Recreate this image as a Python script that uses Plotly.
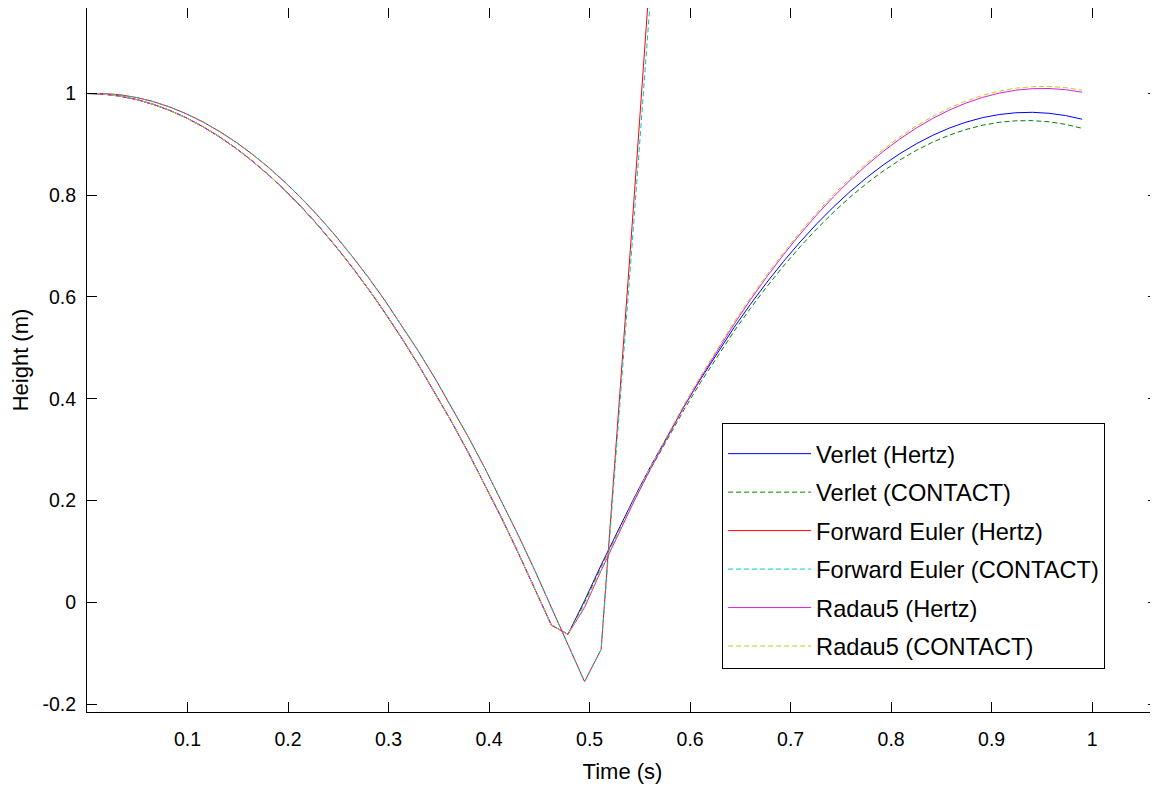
import plotly.graph_objects as go

# time samples (s)
t = [0, 0.0165, 0.033, 0.0495, 0.066, 0.0825, 0.099, 0.1155, 0.132, 0.1485,
     0.165, 0.1815, 0.198, 0.2145, 0.231, 0.2475, 0.264, 0.2805, 0.297, 0.3135,
     0.33, 0.3465, 0.363, 0.3795, 0.396, 0.4125, 0.429, 0.4455, 0.462, 0.4785,
     0.495, 0.5115, 0.528, 0.5445, 0.561, 0.5775, 0.594, 0.6105, 0.627, 0.6435,
     0.66, 0.6765, 0.693, 0.7095, 0.726, 0.7425, 0.759, 0.7755, 0.792, 0.8085,
     0.825, 0.8415, 0.858, 0.8745, 0.891, 0.9075, 0.924, 0.9405, 0.957, 0.9735,
     0.99]

# shared falling phase (Verlet / Radau5)
fall_vr = [1.0, 0.9987, 0.9947, 0.9880, 0.9786, 0.9666, 0.9519, 0.9346, 0.9145, 0.8918,
           0.8665, 0.8384, 0.8077, 0.7743, 0.7383, 0.6995, 0.6581, 0.6141, 0.5673, 0.5179,
           0.4658, 0.4111, 0.3537, 0.2936, 0.2308, 0.1654, 0.0973, 0.0265, -0.0450, -0.063]

verlet_hertz_rise = [0.0030, 0.0733, 0.1409, 0.2058, 0.2681, 0.3277, 0.3846, 0.4388, 0.4904, 0.5393,
                     0.5856, 0.6291, 0.6700, 0.7083, 0.7438, 0.7767, 0.8069, 0.8344, 0.8593, 0.8815,
                     0.9010, 0.9179, 0.9321, 0.9436, 0.9525, 0.9586, 0.9621, 0.9630, 0.9611, 0.9566,
                     0.9494]
verlet_contact_rise = [0.0000, 0.0698, 0.1369, 0.2013, 0.2631, 0.3222, 0.3786, 0.4324, 0.4835, 0.5319,
                       0.5776, 0.6207, 0.6611, 0.6988, 0.7339, 0.7663, 0.7960, 0.8230, 0.8474, 0.8691,
                       0.8881, 0.9045, 0.9182, 0.9292, 0.9376, 0.9433, 0.9463, 0.9466, 0.9443, 0.9393,
                       0.9316]
radau_hertz_rise = [-0.0102, 0.0623, 0.1321, 0.1992, 0.2637, 0.3255, 0.3847, 0.4411, 0.4949, 0.5460,
                    0.5945, 0.6402, 0.6833, 0.7238, 0.7615, 0.7966, 0.8291, 0.8588, 0.8859, 0.9103,
                    0.9320, 0.9511, 0.9675, 0.9812, 0.9923, 1.0007, 1.0064, 1.0094, 1.0098, 1.0075,
                    1.0025]
radau_contact_rise = [-0.0062, 0.0663, 0.1361, 0.2032, 0.2677, 0.3295, 0.3887, 0.4451, 0.4989, 0.5500,
                      0.5985, 0.6442, 0.6873, 0.7278, 0.7655, 0.8006, 0.8331, 0.8628, 0.8899, 0.9143,
                      0.9360, 0.9551, 0.9715, 0.9852, 0.9963, 1.0047, 1.0104, 1.0134, 1.0138, 1.0115,
                      1.0065]

# forward Euler
fe_fall = [1.0, 1.0, 0.9973, 0.9920, 0.9840, 0.9733, 0.9599, 0.9439, 0.9252, 0.9039,
           0.8798, 0.8531, 0.8237, 0.7917, 0.7570, 0.7196, 0.6795, 0.6368, 0.5914, 0.5433,
           0.4926, 0.4391, 0.3831, 0.3243, 0.2629, 0.1988, 0.1320, 0.0626, -0.0096, -0.083,
           -0.156, -0.0925]
fe_hertz_tail = [0.35, 0.80, 1.26]
fe_contact_tail = [0.33, 0.76, 1.20]

verlet_hertz = fall_vr + verlet_hertz_rise
verlet_contact = fall_vr + verlet_contact_rise
radau_hertz = fall_vr + radau_hertz_rise
radau_contact = fall_vr + radau_contact_rise
fe_hertz = fe_fall + fe_hertz_tail
fe_contact = fe_fall + fe_contact_tail

names = ["Verlet (Hertz)", "Verlet (CONTACT)", "Forward Euler (Hertz)",
         "Forward Euler (CONTACT)", "Radau5 (Hertz)", "Radau5 (CONTACT)"]
series = [verlet_hertz, verlet_contact, fe_hertz, fe_contact, radau_hertz, radau_contact]
colors = ["#0000FF", "#008000", "#FF0000", "#00C4CC", "#D81ED8", "#C8C820"]
dashes = ["solid", "5px,3px", "solid", "5px,3px", "solid", "5px,3px"]

xticks = [0.1, 0.2, 0.3, 0.4, 0.5, 0.6, 0.7, 0.8, 0.9, 1.0]
xticktext = ["0.1", "0.2", "0.3", "0.4", "0.5", "0.6", "0.7", "0.8", "0.9", "1"]
yticks = [-0.2, 0, 0.2, 0.4, 0.6, 0.8, 1.0]
yticktext = ["-0.2", "0", "0.2", "0.4", "0.6", "0.8", "1"]

FONT = "Liberation Sans, Arial, Helvetica, sans-serif"

fig = go.Figure()
for i, (nm, ys, c, d) in enumerate(zip(names, series, colors, dashes)):
    fig.add_trace(go.Scatter(
        x=t[:len(ys)], y=ys, mode="lines", name=nm,
        line=dict(color=c, width=1, dash=d),
        legendgroup=f"g{i}",
    ))

# page body has an 8px margin, so the figure is offset by 8px right/down
fig.update_layout(
    width=1150, height=779,
    margin=dict(l=79, r=0, t=0, b=75),
    paper_bgcolor="white", plot_bgcolor="white",
    font=dict(family=FONT, size=19.5, color="black"),
    showlegend=True,
    legend=dict(
        x=0.593, y=0.4105, xanchor="left", yanchor="top",
        bgcolor="white", bordercolor="black", borderwidth=1,
        font=dict(family=FONT, size=23.6, color="black"),
        title=dict(text=" ", font=dict(size=6)),
        traceorder="grouped", tracegroupgap=4.8,
        itemwidth=83,
    ),
    xaxis=dict(
        range=[0, 1.0655], showgrid=False, zeroline=False,
        showline=True, linecolor="black", linewidth=1, mirror="ticks",
        ticks="inside", ticklen=10, tickcolor="black",
        tickvals=xticks, ticktext=xticktext,
        ticklabelstandoff=10,
        title=dict(text="Time (s)", font=dict(size=22), standoff=14),
    ),
    yaxis=dict(
        range=[-0.2157, 1.168], showgrid=False, zeroline=False,
        showline=True, linecolor="black", linewidth=1, mirror="ticks",
        ticks="inside", ticklen=10, tickcolor="black",
        tickvals=yticks, ticktext=yticktext,
        ticklabelstandoff=6,
        title=dict(text="Height (m)", font=dict(size=22), standoff=10),
    ),
)

fig.write_html("out.html")
